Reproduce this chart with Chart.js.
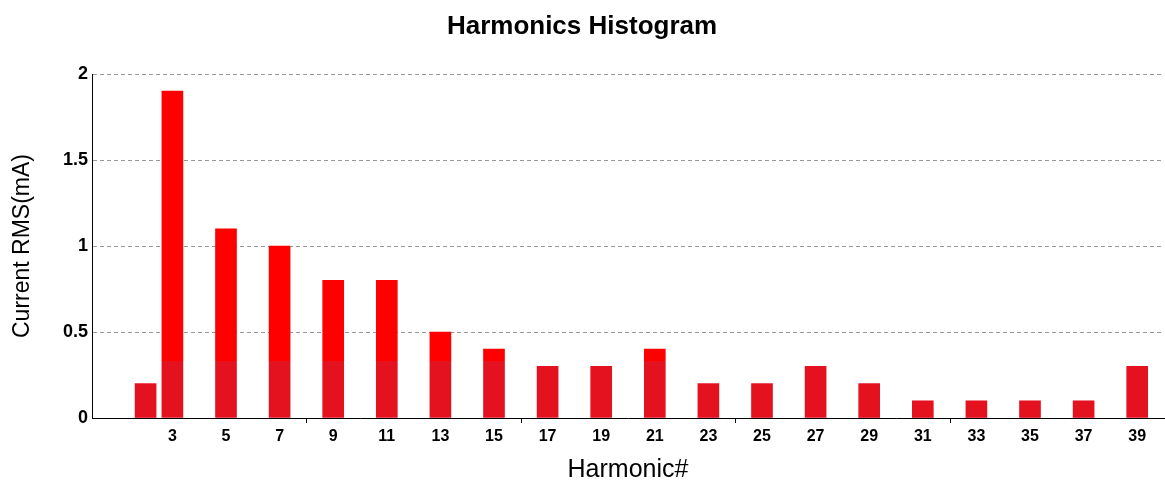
<!DOCTYPE html>
<html>
<head>
<meta charset="utf-8">
<script src="https://cdn.jsdelivr.net/npm/chart.js@4/dist/chart.umd.min.js"></script>
<style>
  html, body { margin: 0; padding: 0; background: #fff; }
  #wrap { width: 1165px; height: 485px; }
</style>
</head>
<body>
<div id="wrap"><canvas id="myChart"></canvas></div>
<script>
// harmonic numbers and RMS current (mA)
var harmonics = [2, 3, 5, 7, 9, 11, 13, 15, 17, 19, 21, 23, 25, 27, 29, 31, 33, 35, 37, 39];
var currents  = [0.2, 1.9, 1.1, 1.0, 0.8, 0.8, 0.5, 0.4, 0.3, 0.3, 0.4, 0.2, 0.2, 0.3, 0.2, 0.1, 0.1, 0.1, 0.1, 0.3];
var xTickLabels = [3, 5, 7, 9, 11, 13, 15, 17, 19, 21, 23, 25, 27, 29, 31, 33, 35, 37, 39];
var xMinorTicks = [8, 16, 24, 32];
var yTicks = [0, 0.5, 1, 1.5, 2];

var FONT = "'Liberation Sans', Arial, sans-serif";

// bars are darker at the bottom band
function barColor(c) {
  var chart = c.chart;
  var area = chart.chartArea;
  if (!area) return '#ff0000';
  var y = chart.scales.y;
  var y0 = y.getPixelForValue(0);
  var ys = y.getPixelForValue(0.33);
  var g = chart.ctx.createLinearGradient(0, y0, 0, area.top);
  var f = (y0 - ys) / (y0 - area.top);
  g.addColorStop(0, '#e3121e');
  g.addColorStop(f, '#e3121e');
  g.addColorStop(f, '#ff0000');
  g.addColorStop(1, '#ff0000');
  return g;
}

// small tick marks under the x axis
var minorTickPlugin = {
  id: 'minorTicks',
  afterDraw: function (chart) {
    var x = chart.scales.x, ctx = chart.ctx, b = chart.chartArea.bottom;
    ctx.save();
    ctx.strokeStyle = '#000';
    ctx.lineWidth = 1;
    xMinorTicks.forEach(function (v) {
      var px = Math.round(x.getPixelForValue(v)) + 0.5;
      ctx.beginPath();
      ctx.moveTo(px, b);
      ctx.lineTo(px, b + 5);
      ctx.stroke();
    });
    ctx.restore();
  }
};

var ctx = document.getElementById('myChart').getContext('2d');
var chart = new Chart(ctx, {
  type: 'bar',
  data: {
    datasets: [{
      label: 'Current RMS',
      data: harmonics.map(function (h, i) { return { x: h, y: currents[i] }; }),
      backgroundColor: barColor,
      borderWidth: 0,
      barThickness: 21
    }]
  },
  options: {
    responsive: true,
    maintainAspectRatio: false,
    animation: false,
    layout: { padding: { left: 0, right: 1, top: 0, bottom: 0 } },
    plugins: {
      legend: { display: false },
      tooltip: { enabled: false },
      title: {
        display: true,
        text: 'Harmonics Histogram',
        color: '#000',
        font: { family: FONT, size: 26, weight: 'bold', lineHeight: 1 },
        padding: { top: 14, bottom: 34 }
      }
    },
    scales: {
      x: {
        type: 'linear',
        min: 0,
        max: 40,
        offset: false,
        afterBuildTicks: function (s) {
          s.ticks = xTickLabels.map(function (v) { return { value: v }; });
        },
        afterFit: function (s) { s.height = 67; },
        grid: { display: false, drawTicks: false, offset: false },
        border: { display: true, color: '#000', width: 1 },
        ticks: {
          color: '#000',
          padding: 9,
          maxRotation: 0,
          autoSkip: false,
          font: { family: FONT, size: 16, weight: 'bold' }
        },
        title: {
          display: true,
          text: 'Harmonic#',
          color: '#000',
          font: { family: FONT, size: 25 },
          padding: { top: 0, bottom: 0 }
        }
      },
      y: {
        min: 0,
        max: 2,
        afterBuildTicks: function (s) {
          s.ticks = yTicks.map(function (v) { return { value: v }; });
        },
        afterFit: function (s) { s.width = 92; },
        grid: {
          drawTicks: false,
          color: function (c) { return c.tick && c.tick.value === 0 ? 'rgba(0,0,0,0)' : '#9a9a9a'; },
          lineWidth: 1
        },
        border: { display: true, color: '#000', width: 1, dash: [4, 3] },
        ticks: {
          color: '#000',
          padding: 4,
          font: { family: FONT, size: 18, weight: 'bold' },
          callback: function (v) { return String(v); }
        },
        title: {
          display: true,
          text: 'Current RMS(mA)',
          color: '#000',
          font: { family: FONT, size: 23 },
          padding: { top: 9, bottom: 0 }
        }
      }
    }
  },
  plugins: [minorTickPlugin]
});
</script>
</body>
</html>
